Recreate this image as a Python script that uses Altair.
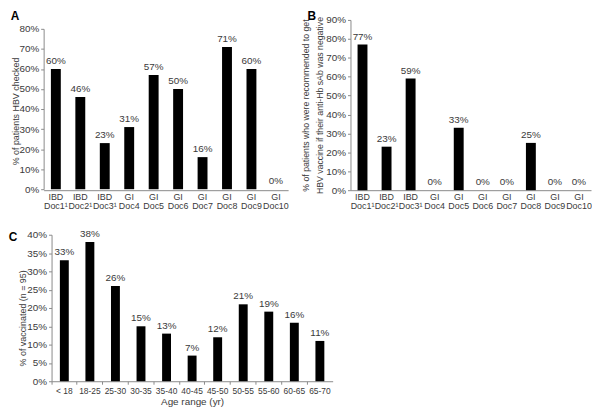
import altair as alt
import pandas as pd

# ---- data ----
doc_groups = ["IBD", "IBD", "IBD", "GI", "GI", "GI", "GI", "GI", "GI", "GI"]
doc_names = ["Doc1¹", "Doc2¹", "Doc3¹", "Doc4", "Doc5", "Doc6", "Doc7", "Doc8", "Doc9", "Doc10"]
a_values = [60, 46, 23, 31, 57, 50, 16, 71, 60, 0]
b_values = [77, 23, 59, 0, 33, 0, 0, 25, 0, 0]
c_ages = ["< 18", "18-25", "25-30", "30-35", "35-40", "40-45", "45-50",
          "50-55", "55-60", "60-65", "65-70"]
c_values = [33, 38, 26, 15, 13, 7, 12, 21, 19, 16, 11]
a_ticks = [0, 10, 20, 30, 40, 50, 60, 70, 80]
b_ticks = [0, 10, 20, 30, 40, 50, 60, 70, 80, 90]
c_ticks = [0, 5, 10, 15, 20, 25, 30, 35, 40]
panel_letters = ["A", "B", "C"]

doc_labels = [f"{g}|{d}" for g, d in zip(doc_groups, doc_names)]
dfA = pd.DataFrame({"doc": doc_labels, "value": a_values})
dfB = pd.DataFrame({"doc": doc_labels, "value": b_values})
dfC = pd.DataFrame({"age": c_ages, "value": c_values})

FONT = "Liberation Sans"
TEXT = "#3a3a3a"
AXIS = "#8a8a8a"


def letter(t, x, y):
    return alt.Chart(pd.DataFrame({"t": [t]})).mark_text(
        fontSize=12, fontWeight="bold", font=FONT, color="black",
        align="center", baseline="middle",
    ).encode(x=alt.value(x), y=alt.value(y), text="t:N")


def doc_panel(df, ticks, ymax, yrange, width, height, ytitle, tx, ty, tsize,
              let, lx, ly):
    base = alt.Chart(df).transform_calculate(lab="datum.value + '%'").encode(
        x=alt.X("doc:N", sort=doc_labels,
                scale=alt.Scale(paddingInner=0, paddingOuter=0),
                axis=alt.Axis(title=None, labelExpr="split(datum.label, '|')",
                              labelAngle=0, ticks=False, labelPadding=2,
                              labelLineHeight=10, labelFontSize=9)),
        y=alt.Y("value:Q",
                scale=alt.Scale(domain=[0, ymax], range=yrange, nice=False),
                axis=alt.Axis(values=ticks, labelExpr="datum.value + '%'",
                              title=ytitle, titleX=tx, titleY=ty, titleAngle=-90,
                              titleAlign="center", titleBaseline="middle",
                              titleFontSize=tsize, titleLineHeight=14)),
    )
    bars = base.mark_bar(color="black", size=10)
    txt = base.mark_text(dy=-8, fontSize=10, color=TEXT, font=FONT).encode(text="lab:N")
    return (bars + txt + letter(let, lx, ly)).properties(width=width, height=height)


A = doc_panel(dfA, a_ticks, 80, [171, 9], 247, 172,
              "% of patients HBV checked", -28, 92, 9, panel_letters[0], -29, -4)
B = doc_panel(dfB, b_ticks, 90, [172, 0], 243, 172,
              ["% of patients who were recommended to get",
               "HBV vaccine if their anti-Hb sAb was negative"],
              -45, 86, 8.8, panel_letters[1], -39, -4)

baseC = alt.Chart(dfC).transform_calculate(lab="datum.value + '%'").encode(
    x=alt.X("age:N", sort=c_ages,
            scale=alt.Scale(range=[8, 292], paddingInner=0, paddingOuter=0),
            axis=alt.Axis(title="Age range (yr)", labelAngle=0, ticks=True,
                          bandPosition=0, tickSize=3, labelPadding=2,
                          titlePadding=2, labelFontSize=8.5)),
    y=alt.Y("value:Q", scale=alt.Scale(domain=[0, 40], nice=False),
            axis=alt.Axis(values=c_ticks, labelExpr="datum.value + '%'",
                          title="% of vaccinated (n = 95)", offset=-8,
                          titleX=-29, titleY=84, titleAngle=-90, titleFontSize=9,
                          titleAlign="center", titleBaseline="middle")),
)
C = (baseC.mark_bar(color="black", size=9)
     + baseC.mark_text(dy=-8, fontSize=10, color=TEXT, font=FONT).encode(text="lab:N")
     + letter(panel_letters[2], -31, 2)
     ).properties(width=292, height=148)

chart = alt.vconcat(
    alt.hconcat(A, B, spacing=12),
    C, spacing=18,
).properties(
    padding=0,
).configure_view(stroke=None).configure_axis(
    labelFont=FONT, titleFont=FONT, labelColor=TEXT, titleColor=TEXT,
    labelFontSize=10, titleFontSize=10, titleFontWeight="normal",
    domainColor=AXIS, tickColor=AXIS, tickSize=3, grid=False, labelPadding=2,
)

chart.save("out.html", embed_options={"renderer": "svg", "actions": False})
